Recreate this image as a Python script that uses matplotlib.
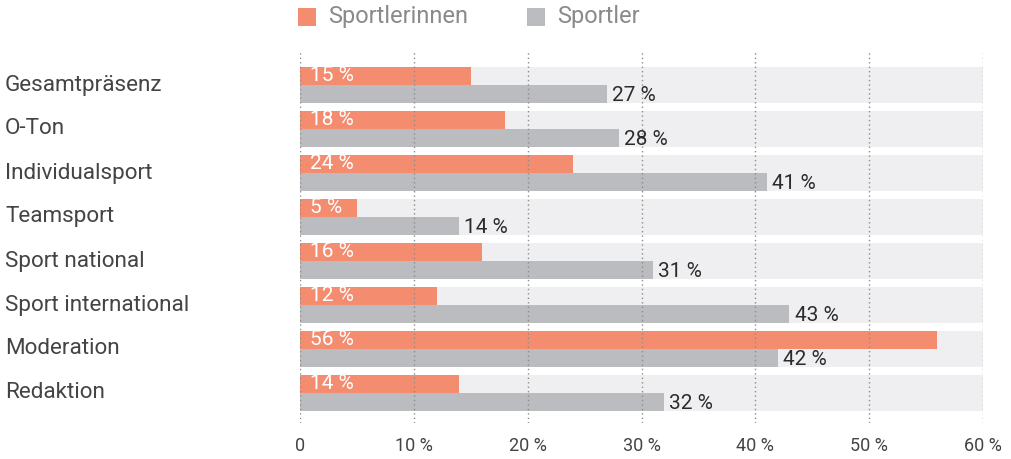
import matplotlib
matplotlib.use("Agg")
import matplotlib.pyplot as plt
from matplotlib.patches import Rectangle
from matplotlib.transforms import blended_transform_factory

plt.rcParams["font.family"] = ["Roboto", "DejaVu Sans"]

categories = ["Gesamtpräsenz", "O-Ton", "Individualsport", "Teamsport",
              "Sport national", "Sport international", "Moderation", "Redaktion"]
women = [15, 18, 24, 5, 16, 12, 56, 14]
men = [27, 28, 41, 14, 31, 43, 42, 32]
series_names = ["Sportlerinnen", "Sportler"]
xticks = [0, 10, 20, 30, 40, 50, 60]

ORANGE = "#f48c70"
GREY = "#bbbcbf"
BAND = "#efeff1"
TEXT = "#2b2b2b"

W, H = 1011, 459
fig = plt.figure(figsize=(W / 100, H / 100), dpi=100)
# axes box in pixels: x 300..983, y 50..423
ax = fig.add_axes([300 / W, 1 - 423 / H, 683 / W, 373 / H])

PITCH = 44.0
bar_h = 18 / PITCH
n = len(categories)
ax.set_xlim(0, 60)
ax.set_ylim(356 / PITCH, -17 / PITCH)

for i in range(n):
    ax.add_patch(Rectangle((0, i), 60, 2 * bar_h, color=BAND, lw=0, zorder=1))
    ax.barh(i + bar_h / 2, women[i], height=bar_h, color=ORANGE, lw=0, zorder=2)
    ax.barh(i + 1.5 * bar_h, men[i], height=bar_h, color=GREY, lw=0, zorder=2)
    ax.text(0.85, i + bar_h / 2 - 0.02, f"{women[i]} %", color="white",
            fontsize=15, va="center", ha="left", zorder=4)
    ax.text(men[i] + 0.45, i + 1.5 * bar_h + 0.04, f"{men[i]} %", color=TEXT,
            fontsize=15, va="center", ha="left", zorder=4)

for x in xticks:
    ax.axvline(x, color="#8c8c8c", lw=1.0, ls=(0, (1, 2.2)), zorder=3)

for s in ax.spines.values():
    s.set_visible(False)
ax.set_yticks([])
ax.set_xticks(xticks)
ax.set_xticklabels(["0" if x == 0 else f"{x} %" for x in xticks],
                   family=["Liberation Sans Narrow", "Roboto"], fontsize=13,
                   color="#444444")
ax.tick_params(axis="x", length=0, pad=10)

trans = blended_transform_factory(fig.transFigure, ax.transData)
for i, name in enumerate(categories):
    ax.text(5 / W, i + bar_h, name, transform=trans, fontsize=16.2,
            color="#444444", va="center", ha="left")

# legend across the top
for (x0, colr), name in zip([(298, ORANGE), (527, GREY)], series_names):
    fig.add_artist(Rectangle((x0 / W, 1 - 26 / H), 18 / W, 18 / H,
                             color=colr, lw=0, transform=fig.transFigure))
    fig.text((x0 + 30) / W, 1 - 17 / H, name, fontsize=17, color="#8a8a8a",
             va="center", ha="left")

fig.savefig("out.png", dpi=100)
